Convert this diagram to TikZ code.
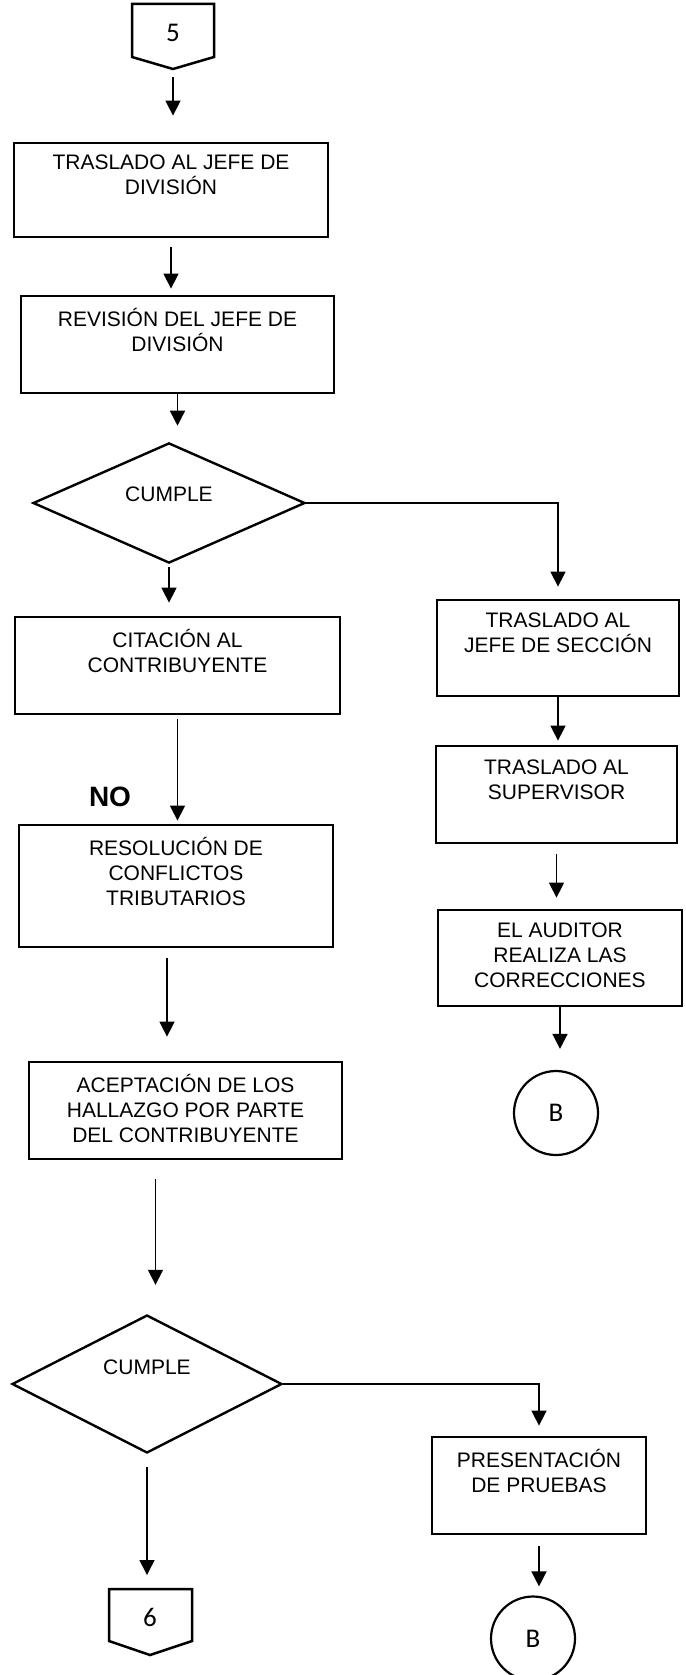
\documentclass[tikz,border=0pt]{standalone}
\usepackage{fontspec}
\setmainfont{Liberation Sans}
\newfontfamily\conectorfont{Carlito}
\usetikzlibrary{shapes.geometric}
\usetikzlibrary{arrows.meta}
\usetikzlibrary{calc}
\newcommand{\puntal}{\rule[-0.2\baselineskip]{0pt}{\baselineskip}}
\tikzset{caja/.style={draw,line width=2.8pt,align=center,inner sep=0pt,minimum width=#1,minimum height=97pt,execute at begin node=\puntal,execute at end node=\puntal},caja/.default=314pt}
\tikzset{rombo/.style={draw,diamond,line width=2.4pt,inner sep=0pt,minimum width=#1},rombo/.default=272pt}
\tikzset{flecha/.style={line width=1.5pt,-{Triangle[length=15pt,width=15pt]}}}
\tikzset{enlace/.style={draw,circle,line width=2.2pt,minimum size=84pt,inner sep=0pt,font=\conectorfont\fontsize{27}{30}\selectfont}}
\tikzset{pagina/.style={line width=2.5pt,line join=miter}}

\begin{document}
\begin{tikzpicture}[x=1pt,y=-1pt,font=\fontsize{21}{25}\selectfont]
	\useasboundingbox (0,0) rectangle (685,1675);

	% Conector de entrada
	\node[font=\conectorfont\fontsize{27}{30}\selectfont] (n5) at (173,33) {5};
	\draw[pagina] ($(n5)+(-41,-29)$) -- ($(n5)+(41,-29)$) -- ($(n5)+(41,24)$) --
				($(n5)+(0,36)$) -- ($(n5)+(-41,24)$) -- cycle;
	\coordinate (p5) at ($(n5)+(0,36)$);

	% Columna izquierda
	\node[caja, minimum height=94pt] (jefediv) at (171,190) {TRASLADO AL JEFE DE\\DIVISIÓN\\\puntal};
	\node[caja=313pt] (revision) at (177.5,344.5) {REVISIÓN DEL JEFE DE\\DIVISIÓN\\\puntal};
	\node[rombo, minimum height=105pt, text depth=18pt] (cumple1) at (169,503) {CUMPLE};
	\node[caja=325pt] (citacion) at (177.5,665.5) {CITACIÓN AL\\CONTRIBUYENTE\\\puntal};
	\node[font=\fontsize{28}{30}\selectfont\bfseries] (no) at (110,797) {NO};
	\node[caja, minimum height=122pt] (resolucion) at (176,886) {RESOLUCIÓN DE\\CONFLICTOS\\TRIBUTARIOS\\\puntal};
	\node[caja=313pt] (aceptacion) at (185.5,1110.5) {ACEPTACIÓN DE LOS\\HALLAZGO POR PARTE\\DEL CONTRIBUYENTE};
	\node[rombo=270pt, minimum height=138pt, text depth=34pt] (cumple2) at (147,1384) {CUMPLE};

	% Conector de salida
	\node[font=\conectorfont\fontsize{27}{30}\selectfont] (n6) at (150,1617) {6};
	\draw[pagina] ($(n6)+(-41,-28)$) -- ($(n6)+(42,-28)$) -- ($(n6)+(42,24)$) --
				($(n6)+(0,38)$) -- ($(n6)+(-41,24)$) -- cycle;
	\coordinate (p6) at ($(n6)+(0,-28)$);

	% Columna derecha
	\node[caja=242pt, minimum height=96pt] (seccion) at (558,648) {TRASLADO AL\\JEFE DE SECCIÓN\\\puntal};
	\node[caja=241pt] (supervisor) at (556.5,794.5) {TRASLADO AL\\SUPERVISOR\\\puntal};
	\node[caja=244pt, minimum height=96pt] (auditor) at (560,958) {EL AUDITOR\\REALIZA LAS\\CORRECCIONES};
	\node[enlace] (b1) at (556,1113) {B};
	\node[caja=214pt] (pruebas) at (539,1485.5) {PRESENTACIÓN\\DE PRUEBAS\\\puntal};
	\node[enlace] (b2) at (533,1638.5) {B};

	% Flechas
	\draw[flecha, shorten <=8pt, shorten >=26pt] (p5) -- (p5 |- jefediv.north);
	\draw[flecha, shorten <=9pt, shorten >=6pt] (jefediv.south) -- (jefediv.south |- revision.north);
	\draw[flecha, shorten >=16pt] (revision.south) -- (revision.south |- cumple1.north);
	\draw[flecha, shorten <=3pt, shorten >=13pt] (cumple1.south) -- (cumple1.south |- citacion.north);
	\draw[flecha, shorten <=4pt, shorten >=3pt] (citacion.south) -- (citacion.south |- resolucion.north);
	\draw[flecha, shorten <=10pt, shorten >=24pt] ([xshift=-9pt]resolucion.south) -- ([xshift=-9pt]resolucion.south |- aceptacion.north);
	\draw[flecha, shorten <=19pt, shorten >=29pt] ([xshift=-30pt]aceptacion.south) -- ([xshift=-30pt]aceptacion.south |- cumple2.north);
	\draw[flecha, shorten <=13pt, shorten >=14pt] (cumple2.south) -- (cumple2.south |- p6);

	\draw[flecha, shorten >=12pt] (cumple1.east) -| (seccion.north);
	\draw[flecha, shorten >=4pt] (seccion.south) -- (seccion.south |- supervisor.north);
	\draw[flecha, shorten <=10pt, shorten >=11pt] (supervisor.south) -- (supervisor.south |- auditor.north);
	\draw[flecha, shorten >=21pt] (auditor.south) -- (auditor.south |- b1.north);

	\draw[flecha, shorten >=10pt] (cumple2.east) -| (pruebas.north);
	\draw[flecha, shorten <=11pt, shorten >=9pt] (pruebas.south) -- (pruebas.south |- b2.north);
\end{tikzpicture}
\end{document}
